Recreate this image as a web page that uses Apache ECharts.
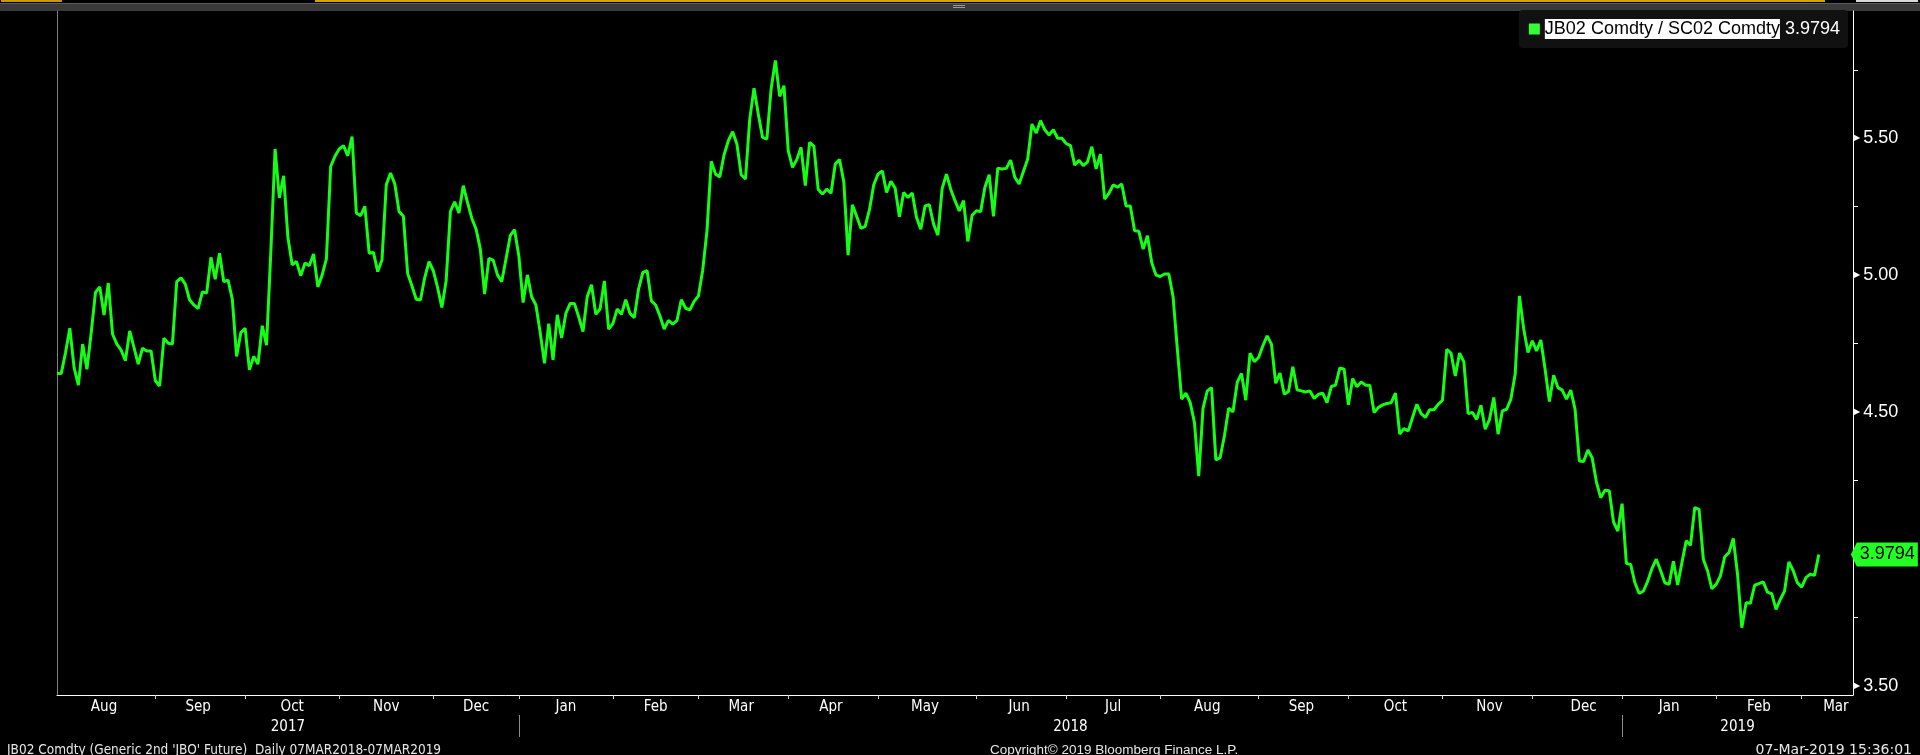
<!DOCTYPE html>
<html><head><meta charset="utf-8">
<script src="https://cdn.jsdelivr.net/npm/echarts@6/dist/echarts.min.js"></script>
<style>html,body{margin:0;padding:0;background:#000;overflow:hidden}#c{width:1920px;height:755px}</style>
</head><body><div id="c"></div>
<script>
// ---- data ----
const seriesName = 'JB02 Comdty / SC02 Comdty';
const lastValue = 3.9794;
const ratio = [
4.641,4.641,4.717,4.806,4.662,4.598,4.748,4.656,4.790,4.937,
4.957,4.854,4.971,4.784,4.748,4.726,4.687,4.796,4.736,4.675,
4.733,4.723,4.723,4.614,4.595,4.770,4.751,4.748,4.976,4.990,
4.967,4.910,4.891,4.878,4.939,4.934,5.065,4.985,5.080,4.976,
4.982,4.912,4.703,4.790,4.806,4.654,4.703,4.675,4.815,4.744,
5.083,5.461,5.282,5.363,5.138,5.038,5.050,4.998,5.044,5.034,
5.077,4.957,5.000,5.059,5.397,5.434,5.461,5.473,5.436,5.506,
5.227,5.217,5.251,5.080,5.083,5.013,5.055,5.330,5.373,5.333,
5.232,5.215,5.006,4.961,4.912,4.909,4.991,5.049,5.016,4.955,
4.882,4.979,5.233,5.268,5.227,5.327,5.266,5.208,5.168,5.095,
4.931,5.061,5.055,5.001,4.976,5.059,5.144,5.166,5.071,4.900,
5.001,4.921,4.891,4.790,4.678,4.823,4.690,4.855,4.770,4.860,
4.896,4.896,4.848,4.794,4.921,4.965,4.857,4.876,4.979,4.803,
4.823,4.876,4.857,4.910,4.860,4.845,4.949,5.010,5.016,4.906,
4.891,4.851,4.803,4.835,4.821,4.835,4.910,4.879,4.873,4.904,
4.924,5.018,5.162,5.416,5.369,5.359,5.440,5.491,5.524,5.479,
5.367,5.351,5.570,5.683,5.589,5.503,5.497,5.680,5.784,5.653,
5.692,5.455,5.394,5.422,5.467,5.327,5.485,5.471,5.314,5.296,
5.314,5.299,5.406,5.422,5.341,5.073,5.257,5.215,5.171,5.178,
5.239,5.330,5.369,5.381,5.302,5.343,5.318,5.213,5.302,5.284,
5.300,5.211,5.168,5.253,5.257,5.186,5.146,5.317,5.369,5.314,
5.272,5.235,5.272,5.123,5.219,5.235,5.232,5.321,5.367,5.215,
5.391,5.388,5.390,5.420,5.357,5.333,5.379,5.424,5.552,5.519,
5.564,5.531,5.512,5.531,5.500,5.500,5.481,5.473,5.402,5.420,
5.400,5.414,5.469,5.388,5.442,5.278,5.299,5.330,5.321,5.333,
5.253,5.253,5.162,5.160,5.095,5.144,5.046,5.000,4.995,5.004,
5.004,4.921,4.729,4.547,4.569,4.534,4.461,4.266,4.513,4.577,
4.589,4.325,4.333,4.412,4.514,4.500,4.608,4.641,4.543,4.715,
4.684,4.699,4.742,4.778,4.748,4.605,4.642,4.565,4.575,4.665,
4.581,4.577,4.573,4.577,4.549,4.565,4.569,4.534,4.593,4.598,
4.661,4.656,4.526,4.622,4.592,4.610,4.598,4.598,4.498,4.516,
4.526,4.531,4.534,4.569,4.419,4.439,4.431,4.480,4.528,4.494,
4.480,4.508,4.508,4.528,4.543,4.729,4.715,4.632,4.715,4.683,
4.494,4.498,4.473,4.525,4.437,4.473,4.553,4.419,4.504,4.510,
4.547,4.638,4.924,4.803,4.717,4.760,4.723,4.763,4.656,4.538,
4.634,4.589,4.580,4.547,4.580,4.510,4.321,4.319,4.361,4.333,
4.244,4.187,4.214,4.212,4.098,4.065,4.165,3.947,3.943,3.876,
3.837,3.846,3.882,3.929,3.962,3.921,3.876,3.870,3.955,3.868,
3.950,4.029,4.013,4.151,4.144,3.962,3.919,3.854,3.870,3.901,
3.971,3.986,4.038,3.907,3.712,3.803,3.801,3.867,3.873,3.879,
3.842,3.836,3.779,3.815,3.846,3.952,3.921,3.876,3.860,3.895,
3.907,3.903,3.9794
];
const monthTickIdx  = [23,44,66,88,108,130,150,171,192,215,236,258,281,302,324,345,366,388,408];
const monthLabelIdx = [11,33,55,77,98,119,140,160,181,203,225,247,269,291,313,335,357,377,398,416];
const monthLabels   = ['Aug','Sep','Oct','Nov','Dec','Jan','Feb','Mar','Apr','May','Jun','Jul','Aug','Sep','Oct','Nov','Dec','Jan','Feb','Mar'];
const yearSepIdx    = [108,366];
const yearLabelIdx  = [54,237,393];
const yearLabels    = ['2017','2018','2019'];
const yLabelVals    = [3.5,4.5,5.0,5.5];
const yMinorTicks   = [3.75,4.25,4.75,5.25,5.75];
const footerLeft    = "JB02 Comdty (Generic 2nd 'JBO' Future)  Daily 07MAR2018-07MAR2019";
const footerCenter  = 'Copyright\u00a9 2019 Bloomberg Finance L.P.';
const footerRight   = '07-Mar-2019 15:36:01';

// ---- chart ----
const NARROW = "'DejaVu Sans Condensed','Liberation Sans Narrow',sans-serif";
const SANS = "'Liberation Sans',Arial,sans-serif";
const X_MAX = 420;
const chart = echarts.init(document.getElementById('c'), null, {renderer:'canvas'});
const points = ratio.map((v,i)=>[i,v]);
const lastIdx = ratio.length-1;

chart.setOption({
  backgroundColor:'#000',
  animation:false,
  grid:{left:57,right:67,top:11,bottom:60,containLabel:false},
  title:[
    {text:footerLeft,left:2,top:738,textStyle:{color:'#e6e6e6',fontSize:13.5,fontWeight:'normal',fontFamily:NARROW}},
    {text:footerCenter,left:985,top:738,textStyle:{color:'#e6e6e6',fontSize:13.5,fontWeight:'normal',fontFamily:SANS}},
    {text:footerRight,right:3,top:738,textStyle:{color:'#e6e6e6',fontSize:14,fontWeight:'normal',fontFamily:"'DejaVu Sans',sans-serif"}}
  ],
  legend:{
    data:[seriesName],selectedMode:false,right:72,top:10,
    backgroundColor:'#111111',borderRadius:4,padding:[9,8,9,10],
    icon:'rect',itemWidth:11,itemHeight:11,itemStyle:{color:'#33ff33'},
    formatter:n=>'{n|'+n+'}{v| '+lastValue.toFixed(4)+'}',
    textStyle:{fontFamily:SANS,fontSize:18,rich:{
      n:{backgroundColor:'#ffffff',color:'#000000',fontSize:18,fontFamily:SANS,height:20,lineHeight:20},
      v:{color:'#ffffff',fontSize:18,fontFamily:SANS,height:20,lineHeight:20}
    }}
  },
  xAxis:[
    {type:'value',min:0,max:X_MAX,position:'bottom',
     axisLine:{show:true,onZero:false,lineStyle:{color:'#ffffff',width:1}},
     splitLine:{show:false},
     axisTick:{show:true,customValues:monthTickIdx,length:4,lineStyle:{color:'#d0d0d0'}},
     axisLabel:{customValues:monthLabelIdx,margin:5,color:'#ffffff',fontSize:15,fontFamily:NARROW,
       formatter:v=>monthLabels[monthLabelIdx.indexOf(v)]}},
    {type:'value',min:0,max:X_MAX,position:'bottom',offset:42,
     axisLine:{show:false,onZero:false},splitLine:{show:false},
     axisTick:{show:true,inside:true,customValues:yearSepIdx,length:22,lineStyle:{color:'#8c8c8c'}},
     axisLabel:{inside:true,customValues:yearLabelIdx,margin:2,color:'#ffffff',fontSize:15,fontFamily:NARROW,
       formatter:v=>yearLabels[yearLabelIdx.indexOf(v)]}}
  ],
  yAxis:[
    {type:'value',position:'right',min:3.466,max:5.965,
     axisLine:{show:true,onZero:false,lineStyle:{color:'#ffffff',width:1}},
     splitLine:{show:false},
     axisTick:{show:true,customValues:yMinorTicks,length:5,lineStyle:{color:'#ffffff'}},
     axisLabel:{customValues:yLabelVals,margin:1,
       formatter:v=>'{t|\u25B6}{n|'+v.toFixed(2)+'}',
       rich:{t:{fontSize:8,color:'#ffffff',fontFamily:"'DejaVu Sans'",padding:[0,3,0,0]},
             n:{fontSize:18,color:'#ffffff',fontFamily:SANS}}}},
    {type:'value',position:'left',min:3.466,max:5.965,
     axisLine:{show:true,onZero:false,lineStyle:{color:'#808080',width:1}},
     axisTick:{show:false},axisLabel:{show:false},splitLine:{show:false}}
  ],
  series:[{
    name:seriesName,type:'line',xAxisIndex:0,yAxisIndex:0,data:points,
    showSymbol:false,symbol:'none',smooth:false,clip:false,
    lineStyle:{color:'#14ff14',width:3},itemStyle:{color:'#14ff14'},
    emphasis:{disabled:true},
    markPoint:{
      silent:true,animation:false,
      data:[{coord:[lastIdx,lastValue],value:lastValue}],
      symbol:'path://M0,12 L6,0 L67,0 L67,24 L6,24 Z',symbolSize:[67,24],symbolKeepAspect:false,
      symbolOffset:[65.5,0],
      itemStyle:{color:'#22ff22'},
      label:{show:true,position:'inside',offset:[3,0],color:'#000000',fontSize:18,fontFamily:SANS,
        formatter:()=>lastValue.toFixed(4)}
    }
  }],
  graphic:[
    {type:'rect',shape:{x:0,y:3,width:1920,height:8},style:{fill:'#3a3a3a'},silent:true},
    {type:'rect',shape:{x:0,y:3,width:1920,height:1},style:{fill:'#5c5c5c'},silent:true},
    {type:'rect',shape:{x:315,y:0,width:1510,height:2},style:{fill:'#d6a600'},silent:true},
    {type:'rect',shape:{x:1,y:0,width:61,height:2},style:{fill:'#c89a00'},silent:true},
    {type:'rect',shape:{x:1856,y:0,width:62,height:2},style:{fill:'#d8d8d8'},silent:true},
    {type:'rect',shape:{x:953,y:5,width:12,height:1},style:{fill:'#9a9a9a'},silent:true},
    {type:'rect',shape:{x:953,y:7,width:12,height:1},style:{fill:'#9a9a9a'},silent:true}
  ]
});
</script></body></html>
